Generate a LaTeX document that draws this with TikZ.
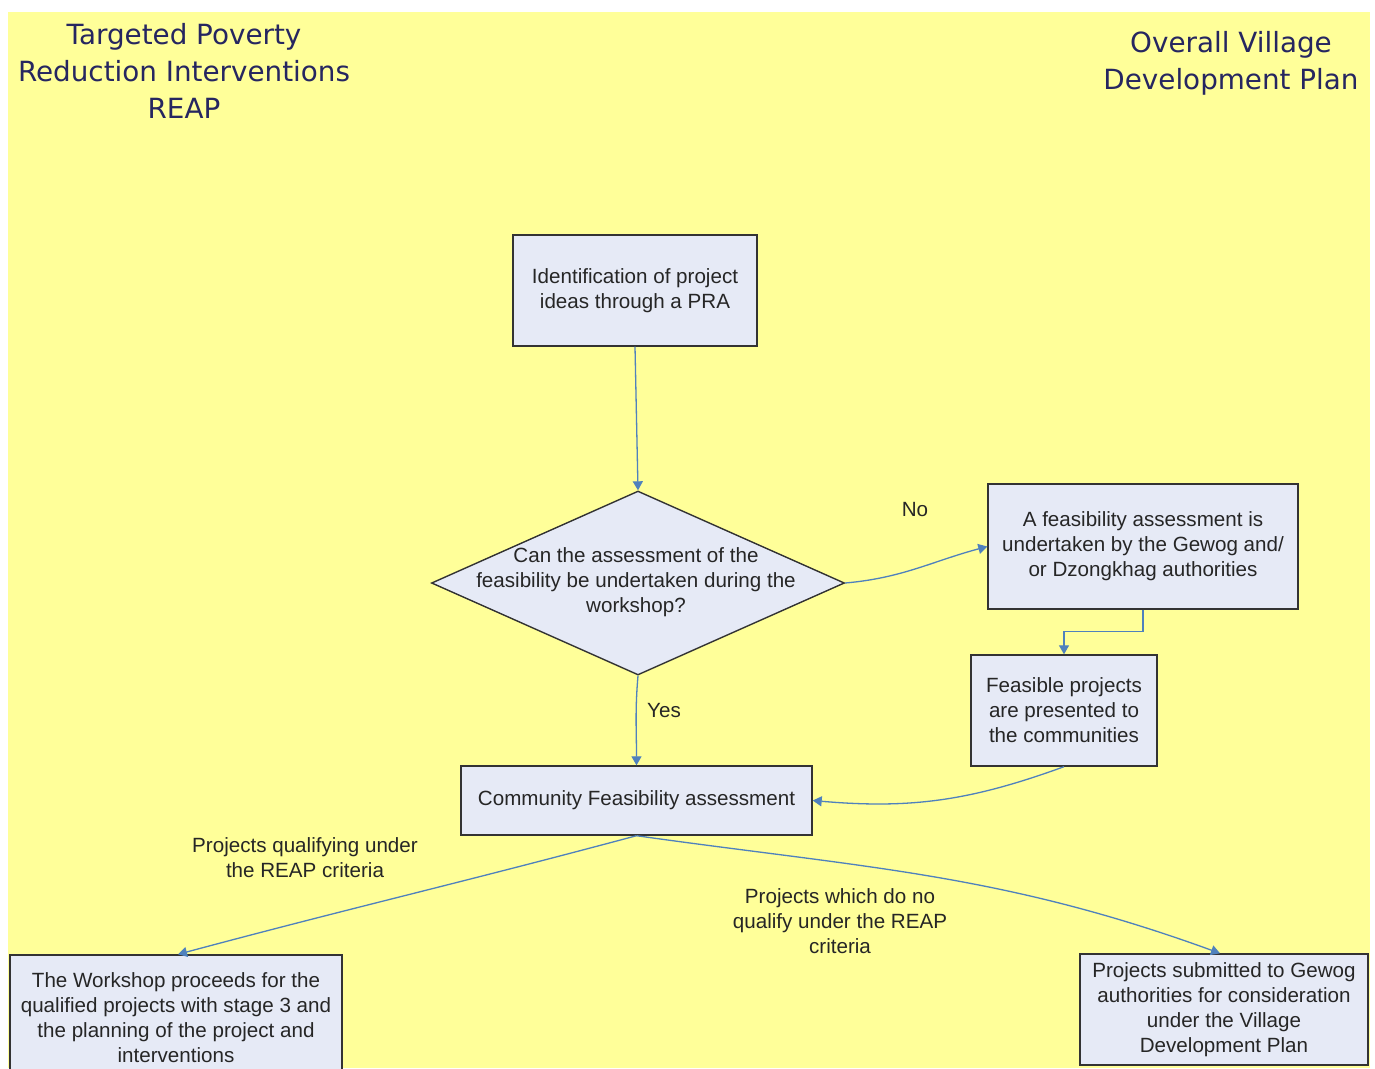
\documentclass[tikz,border=0pt]{standalone}
\usepackage{fontspec}
\setmainfont{Liberation Sans}
\newfontfamily\titlefont{DejaVu Sans}
\usetikzlibrary{shapes.geometric,arrows.meta}
\definecolor{bgyellow}{HTML}{FFFF99}
\definecolor{boxfill}{HTML}{E6EAF6}
\definecolor{arrowblue}{HTML}{4F81BD}
\definecolor{titleblue}{HTML}{262660}
\definecolor{boxline}{HTML}{333333}
\begin{document}
\begin{tikzpicture}[x=1pt,y=-1pt,
  bodyfont/.style={font=\fontsize{20.6}{25}\selectfont, text=black!85},
  box/.style={draw=boxline, line width=1.4pt, fill=boxfill, inner sep=0pt, align=center, bodyfont},
  lbl/.style={align=center, bodyfont, inner sep=0pt},
  ttl/.style={align=center, font=\titlefont\fontsize{27.8}{37}\selectfont, text=titleblue, inner sep=0pt},
  arr/.style={draw=arrowblue, line width=1.3pt, -{Triangle[width=10pt,length=9pt]}}]
\useasboundingbox (0,0) rectangle (1375,1068);
\fill[white] (0,0) rectangle (1375,1068);
\fill[bgyellow] (8,12) rectangle (1370,1068);

\node[ttl] (t1) at (184,71) {Targeted Poverty\\Reduction Interventions\\REAP};
\node[ttl] (t2) at (1231,63) {Overall Village\\Development Plan};

\node[box, minimum width=244, minimum height=111] (b1) at (635,290.5) {Identification of project\\ideas through a PRA};
\node[diamond, draw=boxline, line width=1.4pt, fill=boxfill, inner sep=0pt, minimum width=413, minimum height=184] (dia) at (638,583) {};
\node[lbl] (diatext) at (636,582) {Can the assessment of the\\feasibility be undertaken during the\\workshop?};
\node[box, minimum width=310, minimum height=125] (ba) at (1143,546.5) {A feasibility assessment is\\undertaken by the Gewog and/\\or Dzongkhag authorities};
\node[box, minimum width=186, minimum height=111] (bf) at (1064,710.5) {Feasible projects\\are presented to\\the communities};
\node[box, minimum width=351, minimum height=69] (bc) at (636.5,800.5) {Community Feasibility assessment};
\node[box, minimum width=332, minimum height=125, text depth=0pt] (bl) at (176,1017.5) {The Workshop proceeds for the\\qualified projects with stage 3 and\\the planning of the project and\\interventions};
\node[box, minimum width=288, minimum height=111] (br) at (1224,1009.5) {Projects submitted to Gewog\\authorities for consideration\\under the Village\\Development Plan};

\node[lbl] (no) at (915,510) {No};
\node[lbl] (yes) at (664,711) {Yes};
\node[lbl] (q1) at (305,858) {Projects qualifying under\\the REAP criteria};
\node[lbl] (q2) at (840,921) {Projects which do no\\qualify under the REAP\\criteria};

\draw[arr] (b1.south) -- (dia.north);
\draw[arr] (dia.east) to[out=5,in=195] (ba.west);
\draw[arr] (ba.south) -- ++(0,22) -| (bf.north);
\draw[arr] (bf.south) to[out=200,in=-5] (bc.east);
\draw[arr] (dia.south) to[out=-95,in=90] (bc.north);
\draw[arr] (bc.south) to[out=195,in=15] ([xshift=2pt]bl.north);
\draw[arr] (bc.south) to[out=-8,in=160] ([xshift=-4pt]br.north);
\end{tikzpicture}
\end{document}
